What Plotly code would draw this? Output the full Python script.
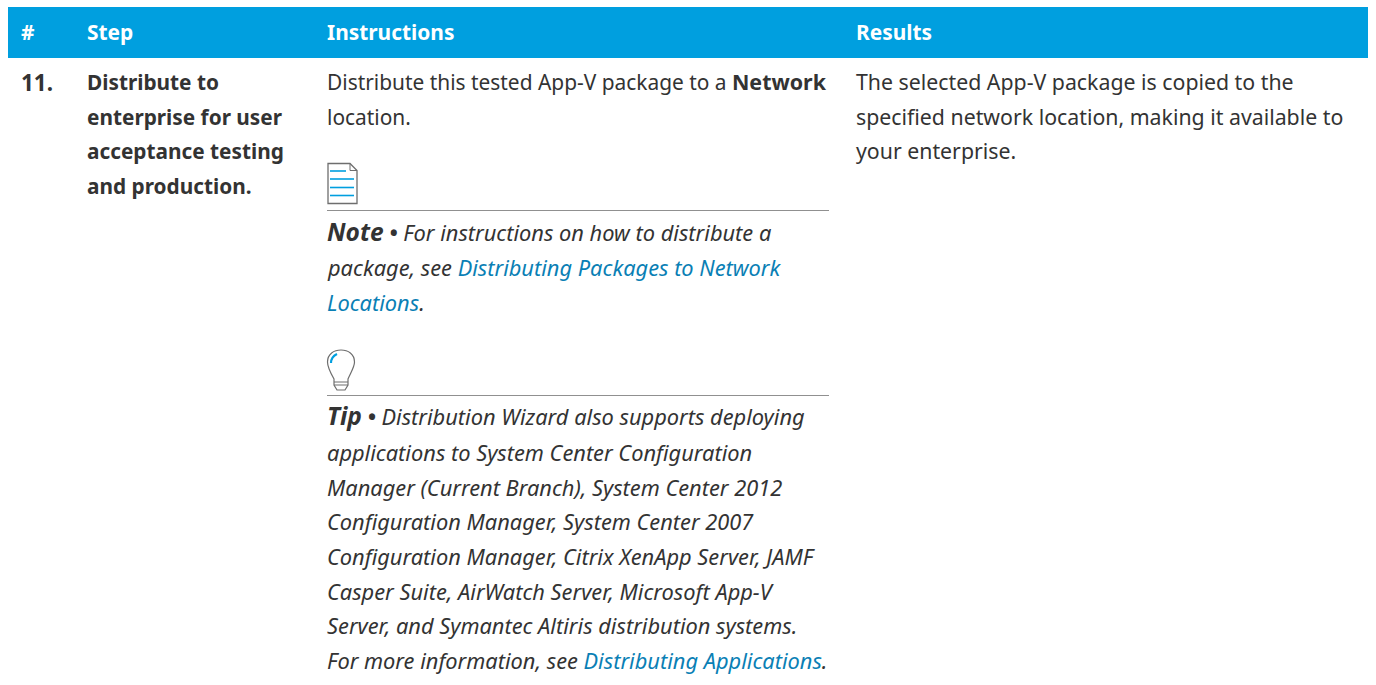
import plotly.graph_objects as go

FONT = "Noto Sans"
BLUE = "#009fdf"
INK = "#333333"
LINK = "#0a7fb5"

headers = ["#", "Step", "Instructions", "Results"]
header_x = [19, 85, 325, 854]
row_number = "11."
step_lines = ["Distribute to", "enterprise for user", "acceptance testing", "and production."]
instr_lines = ['Distribute this tested App-V package to a <b style="font-size:21.4px">Network</b>', "location."]
result_lines = ["The selected App-V package is copied to the",
                "specified network location, making it available to",
                "your enterprise."]
link = lambda s: f'<span style="color:{LINK}">{s}</span>'
note_lines = ['<b style="font-size:24.5px">Note</b> <b>•</b> For instructions on how to distribute a',
              f'package, see {link("Distributing Packages to Network")}',
              link("Locations") + "."]
tip_lines = ['<b style="font-size:24.5px">Tip</b> <b>•</b> Distribution Wizard also supports deploying',
             "applications to System Center Configuration",
             "Manager (Current Branch), System Center 2012",
             "Configuration Manager, System Center 2007",
             "Configuration Manager, Citrix XenApp Server, JAMF",
             "Casper Suite, AirWatch Server, Microsoft App-V",
             "Server, and Symantec Altiris distribution systems.",
             f'For more information, see {link("Distributing Applications")}.']
LEAD = 34.6

fig = go.Figure()
shapes, ann = [], []

def text(x, y, s, color=INK, size=21, bold=False, italic=False):
    if bold: s = f"<b>{s}</b>"
    if italic: s = f"<i>{s}</i>"
    ann.append(dict(x=x, y=y, text=s, showarrow=False, xanchor="left", yanchor="middle", align="left",
                    font=dict(family=FONT, size=size, color=color)))

def block(x, y, lines, **kw):
    for i, l in enumerate(lines):
        text(x, y + i * LEAD, l, **kw)

shapes.append(dict(type="rect", x0=8, x1=1368, y0=7, y1=58, fillcolor=BLUE, line_width=0, layer="below"))
for h, x in zip(headers, header_x):
    text(x, 32, h, color="white", size=20.9, bold=True)
text(19, 82, row_number, size=22.5, bold=True)
block(85, 82, step_lines, size=20.8, bold=True)
text(325, 81.4, instr_lines[0], size=20.9)
text(325, 116.6, instr_lines[1], size=20.9)
text(854, 81.4, result_lines[0], size=21.3)
text(854, 116.6, result_lines[1], size=21.3)
text(854, 150.8, result_lines[2], size=21.3)
text(325, 231, note_lines[0], size=21.8, italic=True)
block(325, 267.6, note_lines[1:], size=21.8, italic=True)
text(325, 415.5, tip_lines[0], size=21.8, italic=True)
block(325, 452.6, tip_lines[1:], size=21.8, italic=True)

for y in (210.5, 395.5):
    shapes.append(dict(type="line", x0=327, x1=829, y0=y, y1=y, line=dict(color="#909090", width=1)))

shapes.append(dict(type="path", path="M328,163.5 L350,163.5 L357,170.5 L357,203.5 L328,203.5 Z",
                   line=dict(color="#6e6e6e", width=1.3)))
shapes.append(dict(type="path", path="M350,163.5 L350,170.5 L357,170.5", line=dict(color="#6e6e6e", width=1)))
for y, x1 in ((171, 346), (179, 354), (187.5, 354), (195.5, 354)):
    shapes.append(dict(type="line", x0=330, x1=x1, y0=y, y1=y, line=dict(color=BLUE, width=1.6)))

shapes.append(dict(type="path",
                   path="M334,379 C330,372 327.5,367 327.5,362 C327.5,354 334,350 341,350 C348,350 354.5,354 354.5,362 "
                   "C354.5,367 351,372 348,379 L348,385 L345,390 L337,390 L334,385 Z",
                   line=dict(color="#6e6e6e", width=1.2)))
for y in (382, 385):
    shapes.append(dict(type="line", x0=334, x1=348, y0=y, y1=y, line=dict(color="#6e6e6e", width=1)))
shapes.append(dict(type="path", path="M331,363 C331,359 333,356 337,354", line=dict(color=BLUE, width=2.2)))

fig.update_layout(width=1376, height=685, autosize=False, margin=dict(l=0, r=0, t=0, b=0),
                  paper_bgcolor="white", plot_bgcolor="white", showlegend=False,
                  xaxis=dict(range=[0, 1376], visible=False, fixedrange=True),
                  yaxis=dict(range=[685, 0], visible=False, fixedrange=True),
                  shapes=shapes, annotations=ann)
fig.write_html("out.html", config={"displayModeBar": False},
               post_script="document.body.style.margin='0';document.body.style.overflow='hidden';")
